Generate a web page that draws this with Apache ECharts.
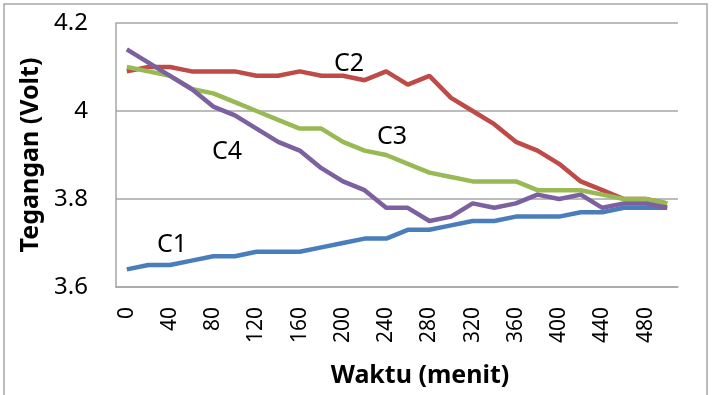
<!DOCTYPE html>
<html>
<head>
<meta charset="utf-8">
<script src="https://cdn.jsdelivr.net/npm/echarts@6/dist/echarts.min.js"></script>
<style>
html,body{margin:0;padding:0;background:#fff;}
#chart{width:712px;height:395px;}
</style>
</head>
<body>
<div id="chart"></div>
<script>
var categories = ['0','20','40','60','80','100','120','140','160','180','200','220','240','260','280','300','320','340','360','380','400','420','440','460','480','500'];
var c1 = [3.64,3.65,3.65,3.66,3.67,3.67,3.68,3.68,3.68,3.69,3.70,3.71,3.71,3.73,3.73,3.74,3.75,3.75,3.76,3.76,3.76,3.77,3.77,3.78,3.78,3.78];
var c2 = [4.09,4.10,4.10,4.09,4.09,4.09,4.08,4.08,4.09,4.08,4.08,4.07,4.09,4.06,4.08,4.03,4.00,3.97,3.93,3.91,3.88,3.84,3.82,3.80,3.80,3.79];
var c3 = [4.10,4.09,4.08,4.05,4.04,4.02,4.00,3.98,3.96,3.96,3.93,3.91,3.90,3.88,3.86,3.85,3.84,3.84,3.84,3.82,3.82,3.82,3.81,3.80,3.80,3.79];
var c4 = [4.14,4.11,4.08,4.05,4.01,3.99,3.96,3.93,3.91,3.87,3.84,3.82,3.78,3.78,3.75,3.76,3.79,3.78,3.79,3.81,3.80,3.81,3.78,3.79,3.79,3.78];
var seriesNames = ['C1','C2','C3','C4'];
var xTitle = 'Waktu (menit)';
var yTitle = 'Tegangan (Volt)';

var FONT = 'Noto Sans';
var chart = echarts.init(document.getElementById('chart'), null, {renderer:'canvas'});
function line(name, data, color){
  return {name:name, type:'line', data:data, symbol:'none', smooth:false,
    lineStyle:{color:color, width:4.5}, itemStyle:{color:color}, animation:false};
}
chart.setOption({
  backgroundColor:'#ffffff',
  animation:false,
  grid:{left:116, right:34, top:23, bottom:108, containLabel:false},
  xAxis:{type:'category', data:categories, boundaryGap:true,
    axisLine:{show:true, lineStyle:{color:'#a6a6a6', width:1.5}},
    axisTick:{show:false},
    axisLabel:{interval:1, rotate:90, margin:20, color:'#000', fontFamily:FONT, fontSize:21},
    name:xTitle, nameLocation:'middle', nameGap:76,
    nameTextStyle:{color:'#000', fontFamily:FONT, fontSize:25, fontWeight:'bold', padding:[0,0,0,46]},
    splitLine:{show:false}},
  yAxis:{type:'value', min:3.6, max:4.2, interval:0.2,
    axisLine:{show:true, lineStyle:{color:'#a6a6a6', width:1.5}},
    axisTick:{show:false},
    axisLabel:{margin:28, color:'#000', fontFamily:FONT, fontSize:24},
    splitLine:{show:true, lineStyle:{color:'#a6a6a6', width:1.5}},
    name:yTitle, nameLocation:'middle', nameRotate:90, nameGap:73,
    nameTextStyle:{color:'#000', fontFamily:FONT, fontSize:25, fontWeight:'bold'}},
  series:[
    line(seriesNames[0], c1, '#4a7ebb'),
    line(seriesNames[1], c2, '#be4b48'),
    line(seriesNames[2], c3, '#98b954'),
    line(seriesNames[3], c4, '#7d60a0')
  ],
  graphic:[
    {type:'rect', shape:{x:4, y:4, width:703, height:392}, style:{fill:'none', stroke:'#a6a6a6', lineWidth:1.5}, silent:true},
    {type:'text', x:172, y:245, style:{text:seriesNames[0], font:'25px "Noto Sans"', fill:'#000', align:'center', verticalAlign:'middle'}},
    {type:'text', x:349, y:64, style:{text:seriesNames[1], font:'25px "Noto Sans"', fill:'#000', align:'center', verticalAlign:'middle'}},
    {type:'text', x:392, y:137, style:{text:seriesNames[2], font:'25px "Noto Sans"', fill:'#000', align:'center', verticalAlign:'middle'}},
    {type:'text', x:227, y:152, style:{text:seriesNames[3], font:'25px "Noto Sans"', fill:'#000', align:'center', verticalAlign:'middle'}}
  ]
});
</script>
</body>
</html>
